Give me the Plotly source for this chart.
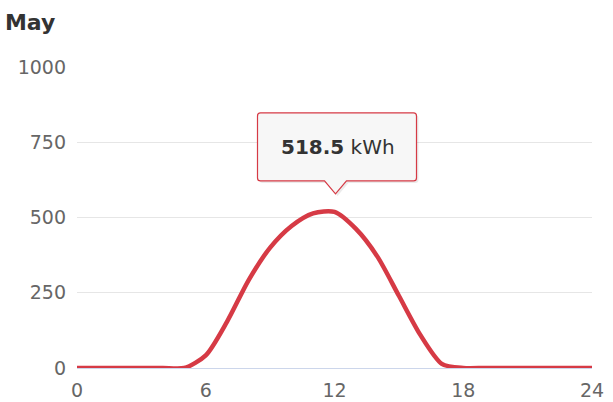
import plotly.graph_objects as go

title_text = "May"
hours = list(range(0, 25))
energy_kwh = [0, 0, 0, 0, 0, 0, 42, 155, 292, 400, 472, 514, 518.5,
              462, 370, 240, 110, 14, 0, 0, 0, 0, 0, 0, 0]
x_ticks = [0, 6, 12, 18, 24]
y_ticks = [0, 250, 500, 750, 1000]
peak_hour = 12
peak_value = 518.5
unit = "kWh"

FONT = "DejaVu Sans, Verdana, sans-serif"
RED = "#d63a45"

fig = go.Figure()
fig.add_trace(go.Scatter(
    x=hours, y=energy_kwh, mode="lines",
    line=dict(color=RED, width=4.5, shape="spline", smoothing=0.75),
    hoverinfo="skip", showlegend=False,
))


def box_path(dx=0, dy=0):
    L, R, B, T, r = -77 + dx, 82 + dx, 31 + dy, 99 + dy, 3
    tipx, tipy, hw = 1 + dx, 18 + dy, 11
    return (f"M {L+r},{T} L {R-r},{T} Q {R},{T} {R},{T-r} L {R},{B+r} "
            f"Q {R},{B} {R-r},{B} L {tipx+hw},{B} L {tipx},{tipy} L {tipx-hw},{B} "
            f"L {L+r},{B} Q {L},{B} {L},{B+r} L {L},{T-r} Q {L},{T} {L+r},{T} Z")


shapes = [
    dict(type="path", xref="x", yref="y", xsizemode="pixel", ysizemode="pixel",
         xanchor=peak_hour, yanchor=peak_value, path=box_path(2, -2),
         fillcolor="rgba(0,0,0,0.08)", line=dict(width=0), layer="above"),
    dict(type="path", xref="x", yref="y", xsizemode="pixel", ysizemode="pixel",
         xanchor=peak_hour, yanchor=peak_value, path=box_path(),
         fillcolor="#f7f7f7", line=dict(color=RED, width=1.2), layer="above"),
]

fig.update_layout(
    width=613, height=402,
    margin=dict(l=77, r=21, t=67, b=34, autoexpand=False),
    paper_bgcolor="white", plot_bgcolor="white",
    font=dict(family=FONT, color="#666666", size=19),
    title=dict(text=f"<b>{title_text}</b>", xref="container", yref="container",
               x=0.008, xanchor="left", y=1 - 22 / 402, yanchor="middle",
               pad=dict(l=0, r=0, t=0, b=0), automargin=False,
               font=dict(family=FONT, size=22, color="#333333")),
    xaxis=dict(range=[0, 24], tickvals=x_ticks, ticktext=[str(v) for v in x_ticks],
               showgrid=False, zeroline=False, showline=True, linecolor="#ccd6eb",
               linewidth=1, ticks="", ticklabelstandoff=5, fixedrange=True,
               automargin=False),
    yaxis=dict(range=[0, 1000], tickvals=y_ticks, ticktext=[str(v) for v in y_ticks],
               showgrid=True, gridcolor="#e6e6e6", gridwidth=1, zeroline=False,
               showline=False, ticks="", ticklabelstandoff=10, fixedrange=True,
               automargin=False),
    shapes=shapes,
    annotations=[dict(
        x=peak_hour, y=peak_value, xref="x", yref="y", showarrow=False,
        text=f"<b>{peak_value}</b> {unit}", xshift=3, yshift=65,
        font=dict(family=FONT, size=20, color="#333333"),
    )],
)

fig.write_html(
    "out.html",
    config={"displayModeBar": False},
    post_script="document.body.style.margin='0';document.body.style.overflow='hidden';",
)
